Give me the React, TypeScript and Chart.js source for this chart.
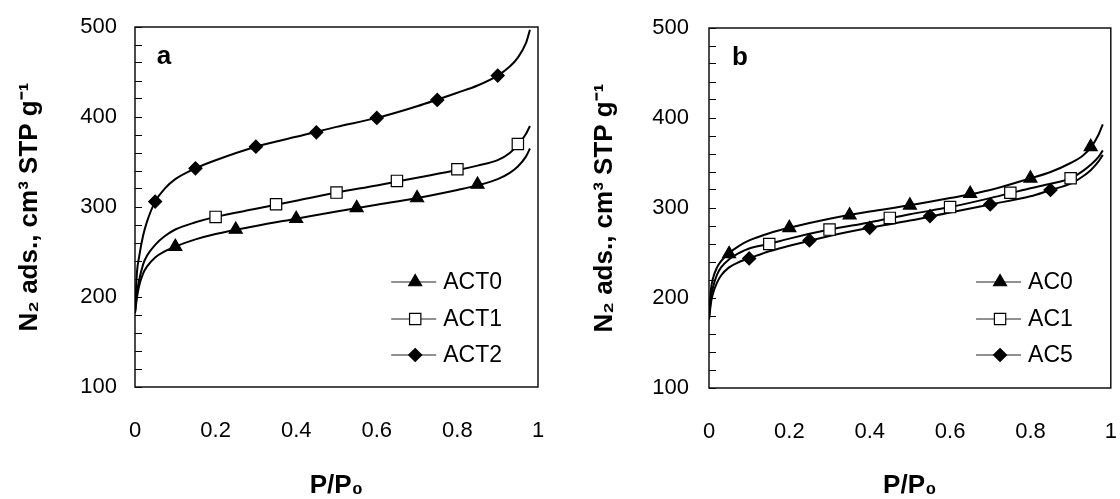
import React, { useEffect, useRef } from 'react';
import { Chart, registerables } from 'chart.js';
import { drawPoint } from 'chart.js/helpers';

Chart.register(...registerables);

const FONT = "'Liberation Sans', Arial, Helvetica, sans-serif";

// ---- shared ----
const P_GRID = [0, 0.005, 0.01, 0.02, 0.03, 0.05, 0.075, 0.1, 0.15, 0.2, 0.3, 0.4, 0.5, 0.6, 0.7, 0.8, 0.85, 0.9, 0.93, 0.95, 0.97, 0.98];
const Y_LABELS = [100, 200, 300, 400, 500];
const X_TITLE = 'P/P\u2080';
const Y_TITLE = 'N\u2082 ads., cm\u00B3 STP g\u207B\u00B9';

// ---- panel a ----
const ACT0_CURVE = [182, 200, 212, 226, 234, 244, 251, 256, 264, 270, 279, 287, 295, 302.5, 310, 319, 324, 331, 338, 345, 356, 365];
const ACT1_CURVE = [183, 205, 218, 236, 246, 258, 268, 275, 283, 289, 298, 307, 316, 324, 332.5, 341, 346, 352, 360, 369, 381, 390];
const ACT2_CURVE = [183, 228, 244, 268, 284, 306, 321, 331, 343, 352, 367, 378, 389, 399, 412, 427, 435, 446, 456, 466, 482, 497];
const ACT0_MX = [0.1, 0.25, 0.4, 0.55, 0.7, 0.85];
const ACT0_MY = [256, 275, 287, 299, 310, 325];
const ACT1_MX = [0.2, 0.35, 0.5, 0.65, 0.8, 0.95];
const ACT1_MY = [289, 303, 316, 329, 342, 370];
const ACT2_MX = [0.05, 0.15, 0.3, 0.45, 0.6, 0.75, 0.9];
const ACT2_MY = [306, 343, 367, 383, 399, 419, 446];

// ---- panel b ----
const AC0_CURVE = [180, 210, 222, 234, 241, 250, 258, 264, 272, 278, 288, 296, 303, 311, 320, 333, 340, 350, 358, 367, 382, 393];
const AC1_CURVE = [178, 200, 212, 226, 234, 243, 250, 255, 260, 266, 276, 284, 293, 301, 311, 322, 327, 333, 341, 348, 357, 364];
const AC5_CURVE = [176, 195, 205, 217, 225, 234, 240, 244, 252, 258, 269, 278, 286, 295, 304, 313, 320, 327, 335, 342, 352, 359];
const AC0_MX = [0.05, 0.2, 0.35, 0.5, 0.65, 0.8, 0.95];
const AC0_MY = [249, 278, 292, 303, 316, 333, 368];
const AC1_MX = [0.15, 0.3, 0.45, 0.6, 0.75, 0.9];
const AC1_MY = [260, 276, 289, 301, 317, 333];
const AC5_MX = [0.1, 0.25, 0.4, 0.55, 0.7, 0.85];
const AC5_MY = [244, 264, 278, 291, 304, 320];

const toXY = (xs: number[], ys: number[]) => xs.map((x, i) => ({ x, y: ys[i] }));

const STYLES = [
  { pointStyle: 'triangle', radius: 7.5, fill: '#000' },
  { pointStyle: 'rect', radius: 8, fill: '#fff' },
  { pointStyle: 'rectRot', radius: 6.5, fill: '#000' },
];

const decorPlugin = {
  id: 'decor',
  beforeDatasetsDraw(chart: any) {
    const { ctx, chartArea } = chart;
    ctx.save();
    ctx.strokeStyle = '#111';
    ctx.lineWidth = 1.5;
    ctx.strokeRect(chartArea.left, chartArea.top, chartArea.right - chartArea.left, chartArea.bottom - chartArea.top);
    ctx.restore();
  },
  afterDatasetsDraw(chart: any, _args: any, opts: any) {
    const { ctx, chartArea } = chart;
    ctx.save();
    // panel letter
    ctx.font = `bold 26px ${FONT}`;
    ctx.fillStyle = '#000';
    ctx.textAlign = 'center';
    ctx.textBaseline = 'middle';
    ctx.fillText(opts.letter, chartArea.left + opts.letterDx, chartArea.top + 30);
    // legend
    const items = chart.data.datasets.slice(0, 3);
    ctx.font = `23px ${FONT}`;
    const maxW = Math.max(...items.map((d: any) => ctx.measureText(d.label).width));
    const textX = chartArea.right - opts.legendGap - maxW;
    const rows = [255, 292, 328];
    items.forEach((d: any, i: number) => {
      const y = chartArea.top + rows[i] + (opts.dy || 0);
      ctx.strokeStyle = '#222';
      ctx.lineWidth = 1;
      ctx.beginPath();
      ctx.moveTo(textX - 52, y);
      ctx.lineTo(textX - 7, y);
      ctx.stroke();
      const st = STYLES[i];
      ctx.fillStyle = st.fill;
      ctx.strokeStyle = '#000';
      ctx.lineWidth = 1.2;
      drawPoint(ctx, { pointStyle: st.pointStyle as any, radius: st.radius, rotation: 0, borderWidth: 1.2 }, textX - 28, y);
      ctx.fillStyle = '#000';
      ctx.textAlign = 'left';
      ctx.textBaseline = 'middle';
      ctx.fillText(d.label, textX, y + 1);
    });
    ctx.restore();
  },
};

function makeConfig(p: any): any {
  const markerSets = p.markers.map((m: any, i: number) => ({
    label: m.label,
    data: toXY(m.x, m.y),
    showLine: false,
    pointStyle: STYLES[i].pointStyle,
    pointRadius: STYLES[i].radius,
    pointBackgroundColor: STYLES[i].fill,
    pointBorderColor: '#000',
    pointBorderWidth: 1.2,
  }));
  const curveSets = p.curves.map((c: number[], i: number) => ({
    label: p.markers[i].label + ' curve',
    data: toXY(P_GRID, c),
    showLine: true,
    borderColor: '#000',
    borderWidth: 2,
    pointRadius: 0,
    cubicInterpolationMode: 'monotone',
    fill: false,
  }));
  return {
    type: 'scatter',
    data: { datasets: [...markerSets, ...curveSets] },
    plugins: [decorPlugin],
    options: {
      responsive: false,
      animation: false,
      events: [],
      layout: { padding: { top: p.top, right: p.padRight, left: 0, bottom: 0 } },
      plugins: {
        legend: { display: false },
        tooltip: { enabled: false },
        decor: { letter: p.letter, letterDx: p.letterDx, legendGap: p.legendGap, dy: p.legendDy },
      },
      scales: {
        x: {
          type: 'linear',
          min: 0,
          max: 1,
          afterFit: (s: any) => {
            s.height = 499 - p.bottom;
            s.paddingLeft = 0;
            s.paddingRight = 0;
          },
          grid: { display: false },
          border: { display: false },
          ticks: {
            stepSize: 0.2,
            padding: 23,
            color: '#000',
            font: { family: FONT, size: 22 },
            maxRotation: 0,
            callback: (v: number) => String(Math.round(v * 10) / 10),
          },
          title: {
            display: true,
            text: X_TITLE,
            color: '#000',
            font: { family: FONT, size: 26, weight: 'bold', lineHeight: 1 },
            padding: { top: 0, bottom: 0 },
          },
        },
        y: {
          type: 'linear',
          min: 100,
          max: 500,
          afterFit: (s: any) => {
            s.width = p.axisLeft;
            s.paddingTop = 0;
            s.paddingBottom = 0;
          },
          border: { display: false },
          grid: { display: true, drawOnChartArea: false, drawTicks: true, tickLength: -7, color: '#000', lineWidth: 1 },
          ticks: {
            stepSize: 20,
            autoSkip: false,
            padding: p.yPad,
            color: '#000',
            font: { family: FONT, size: 22 },
            callback: (v: number) => (Y_LABELS.includes(Math.round(v)) ? String(Math.round(v)) : ''),
          },
          title: {
            display: true,
            text: Y_TITLE,
            color: '#000',
            font: { family: FONT, size: 26, weight: 'bold', lineHeight: 1 },
            padding: { top: p.yTitlePad, bottom: 0 },
          },
        },
      },
    },
  };
}

const PANEL_A = {
  letter: 'a', letterDx: 29, legendGap: 36, legendDy: 0,
  top: 27, bottom: 387, padRight: 22, axisLeft: 135, yPad: 25, yTitlePad: 17,
  curves: [ACT0_CURVE, ACT1_CURVE, ACT2_CURVE],
  markers: [
    { label: 'ACT0', x: ACT0_MX, y: ACT0_MY },
    { label: 'ACT1', x: ACT1_MX, y: ACT1_MY },
    { label: 'ACT2', x: ACT2_MX, y: ACT2_MY },
  ],
};

const PANEL_B = {
  letter: 'b', letterDx: 31, legendGap: 38, legendDy: -1,
  top: 28, bottom: 388, padRight: 7, axisLeft: 149, yPad: 27, yTitlePad: 32,
  curves: [AC0_CURVE, AC1_CURVE, AC5_CURVE],
  markers: [
    { label: 'AC0', x: AC0_MX, y: AC0_MY },
    { label: 'AC1', x: AC1_MX, y: AC1_MY },
    { label: 'AC5', x: AC5_MX, y: AC5_MY },
  ],
};

export default function App() {
  const refA = useRef<HTMLCanvasElement>(null);
  const refB = useRef<HTMLCanvasElement>(null);
  useEffect(() => {
    Chart.defaults.font.family = FONT;
    Chart.defaults.color = '#000';
    const a = new Chart(refA.current as HTMLCanvasElement, makeConfig(PANEL_A));
    const b = new Chart(refB.current as HTMLCanvasElement, makeConfig(PANEL_B));
    return () => { a.destroy(); b.destroy(); };
  }, []);
  return (
    <div style={{ position: 'absolute', left: 0, top: 0, width: 1120, height: 499, background: '#fff' }}>
      <canvas ref={refA} width={560} height={499} style={{ position: 'absolute', left: 0, top: 0, width: 560, height: 499 }} />
      <canvas ref={refB} width={560} height={499} style={{ position: 'absolute', left: 560, top: 0, width: 560, height: 499 }} />
    </div>
  );
}
